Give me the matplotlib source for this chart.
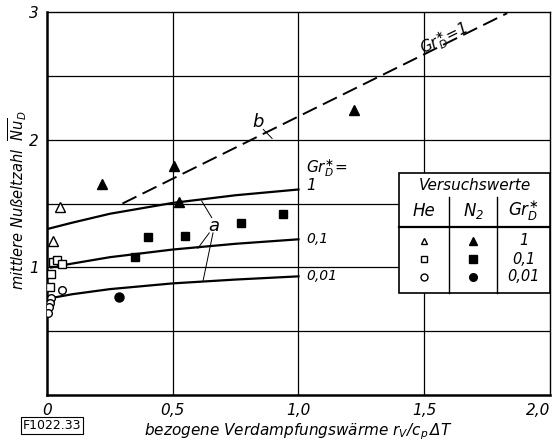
import numpy as np
import matplotlib
matplotlib.use("Agg")
import matplotlib.pyplot as plt
from matplotlib.patches import Rectangle

plt.rcParams['font.family'] = ['Liberation Sans Narrow', 'DejaVu Sans']
plt.rcParams['font.style'] = 'italic'
plt.rcParams['mathtext.fontset'] = 'custom'
plt.rcParams['mathtext.it'] = 'Liberation Sans Narrow:italic'
plt.rcParams['mathtext.rm'] = 'Liberation Sans Narrow:italic'
plt.rcParams['mathtext.fallback'] = 'cm'

# Versuchswerte He (offene Symbole)
he_tri_x = [0.052, 0.025]
he_tri_y = [1.47, 1.21]
he_sq_x = [0.025, 0.040, 0.060, 0.016, 0.012]
he_sq_y = [1.04, 1.06, 1.03, 0.95, 0.85]
he_ci_x = [0.060, 0.016, 0.012, 0.008, 0.002]
he_ci_y = [0.82, 0.76, 0.72, 0.69, 0.64]

# Versuchswerte N2 (volle Symbole)
n2_tri_x = [0.22, 0.505, 0.525, 1.22]
n2_tri_y = [1.65, 1.79, 1.51, 2.23]
n2_sq_x = [0.35, 0.40, 0.55, 0.77, 0.94]
n2_sq_y = [1.08, 1.24, 1.245, 1.35, 1.42]
n2_ci_x = [0.286]
n2_ci_y = [0.77]

# Kurven a (Theorie) fuer Gr_D* = 1; 0,1; 0,01
a_x = [0.0, 0.1, 0.25, 0.5, 0.75, 1.0]
a1_y = [1.30, 1.35, 1.42, 1.505, 1.565, 1.61]
a01_x = [0.016, 0.1, 0.25, 0.5, 0.75, 1.0]
a01_y = [1.00, 1.03, 1.08, 1.14, 1.185, 1.22]
a001_x = [0.016, 0.1, 0.25, 0.5, 0.75, 1.0]
a001_y = [0.76, 0.79, 0.83, 0.875, 0.905, 0.93]

# Gerade b fuer Gr_D* = 1
b_x = [0.30, 1.83]
b_y = [1.50, 2.99]

fig = plt.figure(figsize=(5.6, 4.42), dpi=100)
ax = fig.add_axes([0.084, 0.106, 0.898, 0.867])
ax.set_xlim(0, 2.0)
ax.set_ylim(0, 3.0)

for v in [0.5, 1.0, 1.5]:
    ax.axvline(v, color='black', lw=0.9, zorder=1)
for v in [0.5, 1.0, 1.5, 2.0, 2.5]:
    ax.axhline(v, color='black', lw=0.9, zorder=1)

ax.set_xticks([0, 0.5, 1.0, 1.5, 2.0])
ax.set_xticklabels(['0', '0,5', '1,0', '1,5', '2,0'], fontsize=11)
ax.get_xticklabels()[-1].set_horizontalalignment('right')
ax.set_yticks([1, 2, 3])
ax.set_yticklabels(['1', '2', '3'], fontsize=11)
ax.tick_params(length=0, pad=6)
for s in ['left', 'bottom']:
    ax.spines[s].set_linewidth(1.8)
for s in ['top', 'right']:
    ax.spines[s].set_linewidth(1.0)

# Kurven
ax.plot(a_x, a1_y, color='black', lw=1.6, zorder=3)
ax.plot(a01_x, a01_y, color='black', lw=1.6, zorder=3)
ax.plot(a001_x, a001_y, color='black', lw=1.6, zorder=3)
ax.plot(b_x, b_y, color='black', lw=1.4, dashes=(8, 3.5), zorder=3)

# Messpunkte
ms = 5.5
ax.plot(he_tri_x, he_tri_y, '^', ms=ms + 1, mfc='white', mec='black', mew=1, ls='none', zorder=4)
ax.plot(he_sq_x, he_sq_y, 's', ms=ms, mfc='white', mec='black', mew=1, ls='none', zorder=4)
ax.plot(he_ci_x, he_ci_y, 'o', ms=ms, mfc='white', mec='black', mew=1, ls='none', zorder=4)
ax.plot(n2_tri_x, n2_tri_y, '^', ms=ms + 2, color='black', ls='none', zorder=4)
ax.plot(n2_sq_x, n2_sq_y, 's', ms=ms, color='black', ls='none', zorder=4)
ax.plot(n2_ci_x, n2_ci_y, 'o', ms=ms + 1, color='black', ls='none', zorder=4)

# Kurvenbeschriftung
ax.text(1.03, 1.72, '$Gr_D^{\\ast}$=\n1', fontsize=11, ha='left', va='center', linespacing=0.9)
ax.text(1.03, 1.22, '0,1', fontsize=10, ha='left', va='center')
ax.text(1.03, 0.93, '0,01', fontsize=10, ha='left', va='center')
ax.text(0.665, 1.325, 'a', fontsize=13, ha='center', va='center')
ax.plot([0.655, 0.615], [1.39, 1.52], color='black', lw=0.7)
ax.plot([0.645, 0.60], [1.27, 1.15], color='black', lw=0.7)
ax.plot([0.66, 0.62], [1.27, 0.89], color='black', lw=0.7)
ax.text(0.84, 2.14, 'b', fontsize=13, ha='center', va='center')
ax.plot([0.86, 0.895], [2.08, 2.01], color='black', lw=0.7)
ax.text(1.58, 2.79, '$Gr_D^{\\ast}$=1', fontsize=11, ha='center', va='center', rotation=26)

# Tabelle Versuchswerte
x0, x1, x2, x3 = 1.40, 1.60, 1.79, 2.0
yb, ysep, ytop = 0.80, 1.315, 1.74
ax.add_patch(Rectangle((x0, yb), x3 - x0, ytop - yb, facecolor='white',
                       edgecolor='black', lw=1.2, zorder=5))
ax.plot([x0, x3], [ysep, ysep], color='black', lw=1.6, zorder=6)
for xv in [x1, x2]:
    ax.plot([xv, xv], [yb, 1.55], color='black', lw=1.0, zorder=6)
ax.text((x0 + x3) / 2, 1.645, 'Versuchswerte', fontsize=11, ha='center', va='center', zorder=7)
ax.text((x0 + x1) / 2, 1.44, 'He', fontsize=12, ha='center', va='center', zorder=7)
ax.text((x1 + x2) / 2, 1.44, '$N_2$', fontsize=12, ha='center', va='center', zorder=7)
ax.text((x2 + x3) / 2, 1.44, '$Gr_D^{\\ast}$', fontsize=12, ha='center', va='center', zorder=7)
rows_y = [1.21, 1.065, 0.925]
he_m = ['^', 's', 'o']
gr_lbl = ['1', '0,1', '0,01']
for ry, mk, lb in zip(rows_y, he_m, gr_lbl):
    ax.plot((x0 + x1) / 2, ry, mk, ms=5, mfc='white', mec='black', mew=1, zorder=7)
    ax.plot((x1 + x2) / 2, ry, mk, ms=5.5, color='black', zorder=7)
    ax.text((x2 + x3) / 2, ry, lb, fontsize=10.5, ha='center', va='center', zorder=7)

ax.set_xlabel('bezogene Verdampfungswärme $r_V/c_p\\,\\Delta T$', fontsize=11, labelpad=2)
ax.set_ylabel('mittlere Nußeltzahl  $\\overline{Nu}_D$', fontsize=10.5, labelpad=2)
ax.yaxis.set_label_coords(-0.035, 0.51)

fig.text(0.04, 0.022, 'F1022.33', fontsize=9, style='normal', ha='left', va='bottom',
         bbox=dict(boxstyle='square,pad=0.15', fc='white', ec='black', lw=0.8))

fig.savefig('out.png', dpi=100)
